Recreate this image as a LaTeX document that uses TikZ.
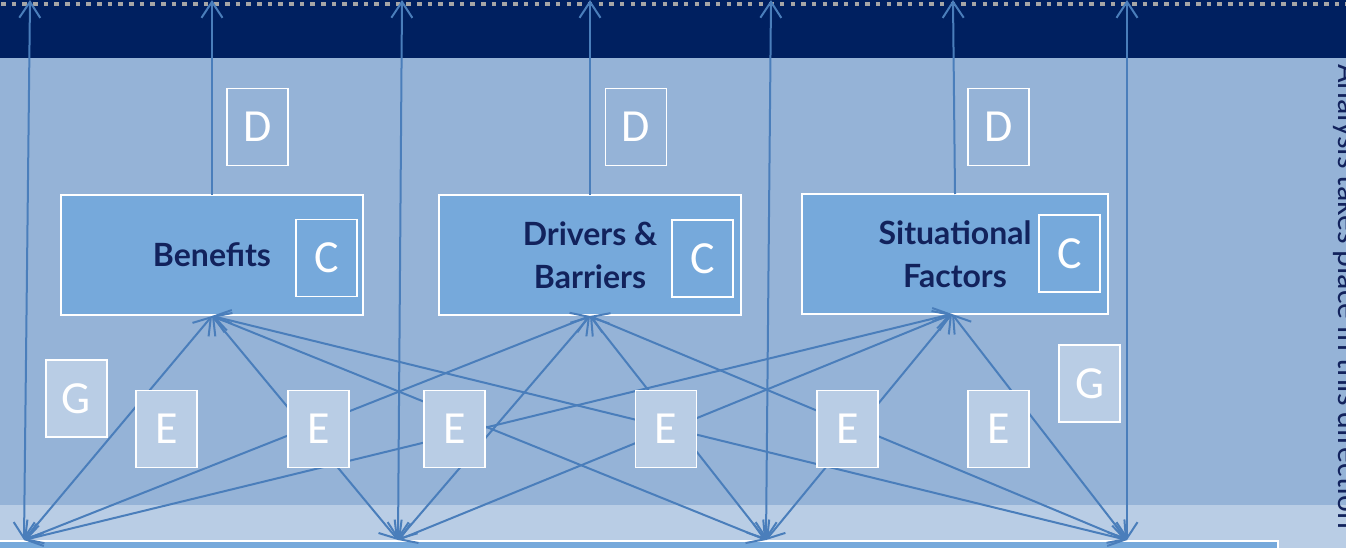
\documentclass[tikz,border=0pt]{standalone}
\usepackage{fontspec}
\setmainfont{Carlito}
\newfontfamily\titlefont{Lato}
\usetikzlibrary{arrows.meta}
\definecolor{navy}{HTML}{002060}
\definecolor{bgblue}{HTML}{95B3D7}
\definecolor{lightband}{HTML}{B9CDE5}
\definecolor{boxblue}{HTML}{76A9DB}
\definecolor{linkblue}{HTML}{4A7EBB}
\definecolor{dotgray}{HTML}{A6A6A6}
\definecolor{titlenavy}{HTML}{12225C}
\begin{document}
\begin{tikzpicture}[x=1pt,y=-1pt,
  bigbox/.style={draw=white, line width=1.3pt, fill=boxblue, minimum width=302pt, minimum height=120pt, inner sep=0pt, outer sep=0pt, font=\titlefont\bfseries\fontsize{32}{43}\selectfont, text=titlenavy, align=center},
  letterbox/.style={draw=white, line width=1.6pt, minimum width=61pt, minimum height=77pt, inner sep=0pt, outer sep=0pt, text=white, font=\fontsize{46}{46}\selectfont},
  dbox/.style={letterbox, fill=bgblue},
  cbox/.style={letterbox, fill=boxblue},
  ebox/.style={letterbox, fill=lightband},
  link/.style={draw=linkblue, line width=2pt, {Straight Barb[length=16pt,width=21pt]}-{Straight Barb[length=16pt,width=21pt]}},
  uplink/.style={draw=linkblue, line width=2pt, -{Straight Barb[length=16pt,width=21pt]}},
]
\useasboundingbox (0,0) rectangle (1346,548);
% backgrounds
\fill[bgblue] (0,0) rectangle (1346,548);
\fill[navy] (0,0) rectangle (1346,58);
\draw[dotgray, line width=4.5pt, dash pattern=on 4.5pt off 6.17pt] (1,4) -- (1346,4);
\fill[lightband] (0,505) rectangle (1346,548);
\node[draw=white, line width=1.3pt, fill=boxblue, minimum width=1290pt, minimum height=40pt, inner sep=0pt, outer sep=0pt, anchor=north east] (base) at (1278,541) {};

% big boxes
\node[bigbox] (ben) at (212,255) {Benefits};
\node[bigbox] (drv) at (590,255) {Drivers \&\\Barriers};
\node[bigbox, minimum width=306pt] (sit) at (955,254) {Situational\\Factors};

% C boxes
\node[cbox] (c1) at (326.5,258) {C};
\node[cbox] (c2) at (702.5,258.5) {C};
\node[cbox] (c3) at (1069.5,253.5) {C};

% D boxes
\node[dbox] (d1) at (257.5,127) {D};
\node[dbox] (d2) at (636,127) {D};
\node[dbox] (d3) at (998.5,127) {D};

% G boxes
\node[ebox] (g1) at (76.5,398.5) {G};
\node[ebox] (g2) at (1089.5,383.5) {G};

% direction text
\node[rotate=-90, anchor=base west, inner sep=0pt, text=titlenavy, font=\fontsize{32}{32}\selectfont] (dir) at (1338,64) {Analysis takes place in this direction};

% connection points
\coordinate (B1) at (24,540);
\coordinate (B2) at (398,540);
\coordinate (B3) at (766,540);
\coordinate (B4) at (1127,540);
\coordinate (V1) at (30,0);
\coordinate (V2) at (402,0);
\coordinate (V3) at (771,0);
\coordinate (V4) at (1127,0);
\coordinate (U1) at (212,0);
\coordinate (U2) at (590,0);
\coordinate (U3) at (953,0);
\coordinate (T1) at (212,316);
\coordinate (T2) at (590,316);
\coordinate (T3) at (952,314);

% vertical links
\foreach \i in {1,2,3,4} \draw[link] (B\i) -- (V\i);
\draw[uplink] (ben.north) -- (U1);
\draw[uplink] (drv.north) -- (U2);
\draw[uplink] (sit.north) -- (U3);

% cross links
\foreach \t in {1,2,3} \foreach \b in {1,2,3,4} \draw[link] (T\t) -- (B\b);

% E boxes on top
\node[ebox] (e1) at (166.5,429) {E};
\node[ebox] (e2) at (318.5,429) {E};
\node[ebox] (e3) at (454.5,429) {E};
\node[ebox] (e4) at (666,429) {E};
\node[ebox] (e5) at (847.5,429) {E};
\node[ebox] (e6) at (998.5,429) {E};
\end{tikzpicture}
\end{document}
